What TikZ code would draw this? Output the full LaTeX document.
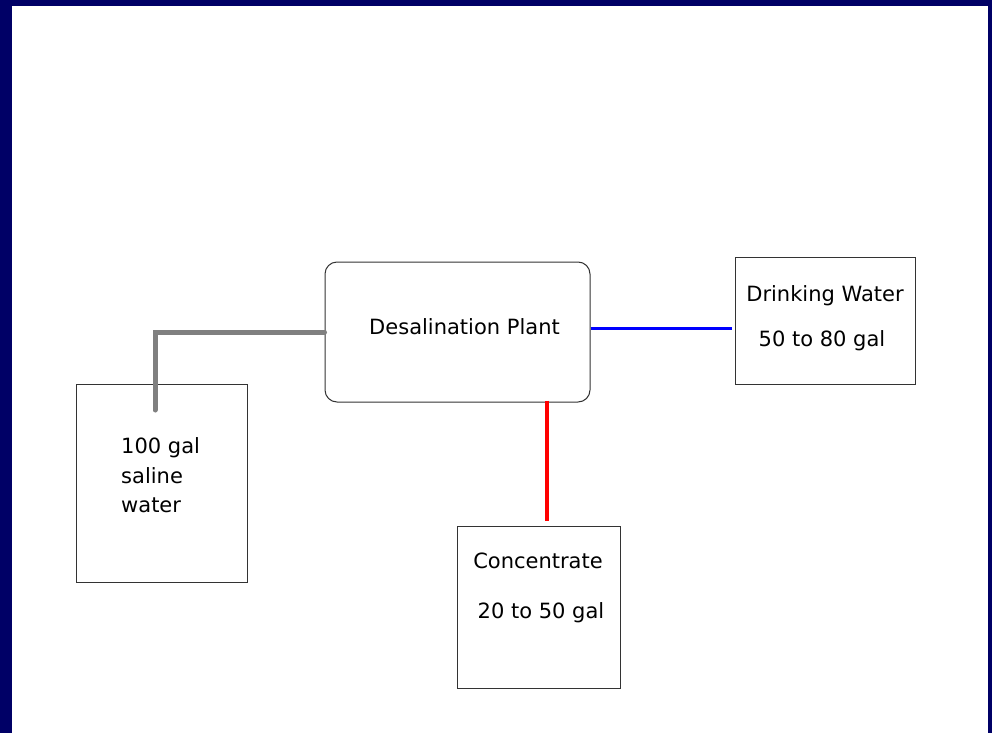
\documentclass[tikz,border=0pt]{standalone}
\usepackage{fontspec}
\setmainfont{DejaVu Sans}
\definecolor{framenavy}{RGB}{0,0,102}
\definecolor{pipegray}{RGB}{128,128,128}
\tikzset{
  tank/.style={draw=black!80, line width=1pt, fill=white, inner sep=0pt},
  plantbox/.style={tank, rounded corners=12pt},
  lbl/.style={inner sep=0pt, font=\fontsize{21}{25}\selectfont},
}
\begin{document}
\begin{tikzpicture}[x=1pt, y=-1pt]
  \fill[framenavy] (0,0) rectangle (992,733);
  \fill[white] (12,6) rectangle (988,733);
  \useasboundingbox (0,0) rectangle (992,733);

  % boxes
  \node[tank, minimum width=171pt, minimum height=198pt] (saline) at (161.5,483) {};
  \node[plantbox, minimum width=265pt, minimum height=140pt] (plant) at (457.5,332) {};
  \node[tank, minimum width=180pt, minimum height=127pt] (drink) at (825,320.5) {};
  \node[tank, minimum width=163pt, minimum height=162pt] (conc) at (538.5,607) {};

  % labels
  \node[lbl, anchor=base west] (sal1) at (121,453) {100 gal};
  \node[lbl, anchor=base west] (sal2) at (121,483) {saline};
  \node[lbl, anchor=base west] (sal3) at (121,512) {water};
  \node[lbl, anchor=base] (plantlbl) at (464.5,334) {Desalination Plant};
  \node[lbl, anchor=base] (drink1) at (825,301) {Drinking Water};
  \node[lbl, anchor=base] (drink2) at (822,346) {50 to 80 gal};
  \node[lbl, anchor=base] (conc1) at (538,568) {Concentrate};
  \node[lbl, anchor=base] (conc2) at (541,618) {20 to 50 gal};

  % pipes
  \coordinate (inlet) at (155,410);
  \draw[pipegray, line width=5pt, line cap=round] (plant.west) -| (inlet);
  \draw[blue, line width=3pt, shorten >=3pt] ([yshift=4pt]plant.east) -- ([yshift=4pt]plant.east -| drink.west);
  \draw[red, line width=4pt, shorten <=-2pt, shorten >=5pt] ([xshift=89.5pt]plant.south) -- ([xshift=8.5pt]conc.north);

\end{tikzpicture}
\end{document}
